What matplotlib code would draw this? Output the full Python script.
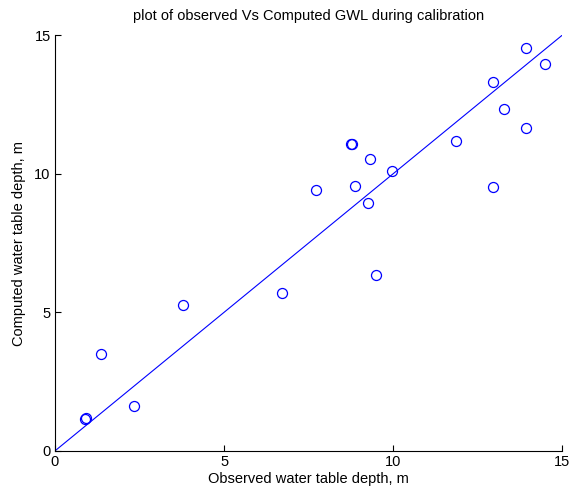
import matplotlib
matplotlib.use("Agg")
import matplotlib.pyplot as plt

plt.rcParams["font.family"] = ["Liberation Sans", "DejaVu Sans"]

# observed vs computed water table depth (m), calibration period
observed = [0.90, 0.91, 1.37, 2.33, 3.80, 6.70, 7.72, 8.74, 8.77, 8.86, 9.27,
            9.31, 9.48, 9.97, 11.87, 12.94, 12.94, 13.29, 13.93, 13.94, 14.50]
computed = [1.17, 1.18, 3.50, 1.62, 5.27, 5.68, 9.42, 11.06, 11.09, 9.55, 8.94,
            10.52, 6.35, 10.09, 11.18, 13.31, 9.51, 12.33, 11.64, 14.54, 13.97]
one_to_one = [0, 15]
ticks = [0, 5, 10, 15]

fig = plt.figure(figsize=(5.72, 4.95), dpi=100)
ax = fig.add_axes([0.096, 0.089, 0.887, 0.840])

ax.plot(observed, computed, "o", mfc="none", mec="#0000ff", ms=7.2, mew=0.9)
ax.plot(one_to_one, one_to_one, color="#0000ff", lw=0.8)

ax.set_xlim(0, 15)
ax.set_ylim(0, 15)
ax.set_xticks(ticks)
ax.set_yticks(ticks)
ax.spines["top"].set_visible(False)
ax.spines["right"].set_visible(False)
ax.tick_params(direction="in", length=4, width=0.8, labelsize=10.5, pad=3)

ax.set_xlabel("Observed water table depth, m", fontsize=10.5, labelpad=2)
ax.set_ylabel("Computed water table depth, m", fontsize=10.5, labelpad=6)
ax.set_title("plot of observed Vs Computed GWL during calibration", fontsize=10.5, pad=11)

fig.savefig("out.png", dpi=100)
